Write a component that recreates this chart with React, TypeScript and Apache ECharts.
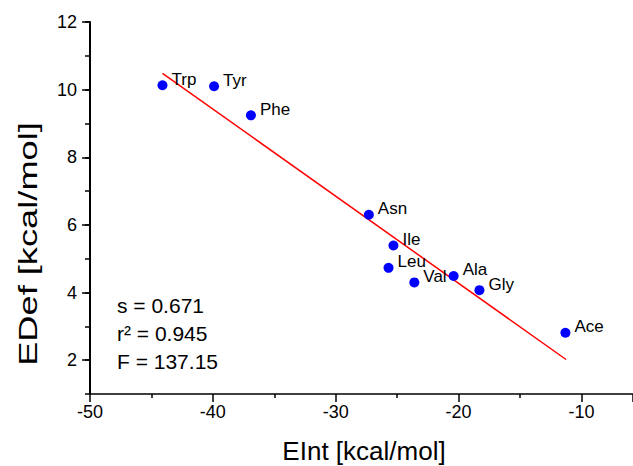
import React, { useEffect, useRef } from "react";
import * as echarts from "echarts";

const names = ["Trp", "Tyr", "Phe", "Asn", "Ile", "Leu", "Val", "Ala", "Gly", "Ace"];
const eInt = [-44.1, -39.9, -36.9, -27.3, -25.3, -25.7, -23.6, -20.4, -18.3, -11.3];
const eDef = [10.13, 10.1, 9.24, 6.3, 5.39, 4.73, 4.3, 4.49, 4.07, 2.81];
const fitX = [-44.1, -11.25];
const fitY = [10.48, 2.02];
const yMajorTicks = [2, 4, 6, 8, 10, 12];
const statLines = ["s = 0.671", "r² = 0.945", "F = 137.15"];
const xTitle = "EInt [kcal/mol]";
const yTitle = "EDef [kcal/mol]";

const FONT = "'Liberation Sans', Arial, sans-serif";

export default function App() {
  const ref = useRef<HTMLDivElement>(null);
  useEffect(() => {
    if (!ref.current) return;
    const chart = echarts.init(ref.current, null, { renderer: "svg" });
    chart.setOption({
      animation: false,
      backgroundColor: "#ffffff",
      textStyle: { fontFamily: FONT },
      grid: { left: 90, right: 0, top: 22, bottom: 72, containLabel: false },
      xAxis: {
        type: "value",
        min: -50,
        max: -5.8,
        interval: 10,
        axisLine: { show: true, lineStyle: { color: "#000", width: 1.5 } },
        axisTick: { show: true, length: 8, lineStyle: { color: "#000", width: 1.5 } },
        minorTick: { show: true, splitNumber: 2, length: 4, lineStyle: { color: "#000", width: 1.5 } },
        axisLabel: {
          fontSize: 18,
          color: "#000",
          margin: 9,
          fontFamily: FONT,
          showMaxLabel: false,
          formatter: (v: number) => (Math.abs(v % 10) < 1e-6 ? String(v) : ""),
        },
        splitLine: { show: false },
      },
      yAxis: [
        {
          type: "value",
          min: 1,
          max: 12,
          interval: 1,
          axisLine: { show: true, lineStyle: { color: "#000", width: 2 } },
          axisTick: { show: true, length: 5, lineStyle: { color: "#000", width: 1.5 } },
          axisLabel: {
            fontSize: 18,
            color: "#000",
            margin: 13,
            fontFamily: FONT,
            formatter: (v: number) => (v % 2 === 0 ? String(v) : ""),
          },
          splitLine: { show: false },
        },
        {
          type: "value",
          min: 1,
          max: 12,
          position: "left",
          axisLine: { show: false },
          axisLabel: { show: false },
          axisTick: { show: true, length: 8, customValues: yMajorTicks, lineStyle: { color: "#000", width: 1.5 } },
          splitLine: { show: false },
        },
      ],
      graphic: [
        ...statLines.map((t, i) => ({
          type: "text",
          x: 117,
          y: 305 + i * 28,
          style: { text: t, fontSize: 21, fill: "#000", fontFamily: FONT, verticalAlign: "middle" },
        })),
        {
          type: "text",
          x: 364,
          y: 451,
          style: { text: xTitle, fontSize: 26, fill: "#000", fontFamily: FONT, align: "center", verticalAlign: "middle" },
        },
        {
          type: "text",
          x: 29,
          y: 244,
          rotation: Math.PI / 2,
          scaleX: 1.45,
          style: { text: yTitle, fontSize: 25, fill: "#000", fontFamily: FONT, align: "center", verticalAlign: "middle" },
        },
      ],
      series: [
        {
          type: "line",
          data: fitX.map((x, i) => [x, fitY[i]]),
          showSymbol: false,
          symbol: "none",
          lineStyle: { color: "#ff0000", width: 1.5 },
          z: 1,
        },
        {
          type: "scatter",
          data: eInt.map((x, i) => ({ value: [x, eDef[i]], name: names[i] })),
          symbol: "circle",
          symbolSize: 10,
          itemStyle: { color: "#0000ff", opacity: 1 },
          label: {
            show: true,
            position: "right",
            distance: 4,
            offset: [0, -6],
            formatter: (p: any) => p.name,
            fontSize: 17,
            color: "#000",
            fontFamily: FONT,
          },
          z: 2,
        },
      ],
    });
    return () => chart.dispose();
  }, []);
  return (
    <div
      ref={ref}
      style={{ position: "fixed", left: 0, top: 0, width: 633, height: 466, background: "#fff" }}
    />
  );
}
